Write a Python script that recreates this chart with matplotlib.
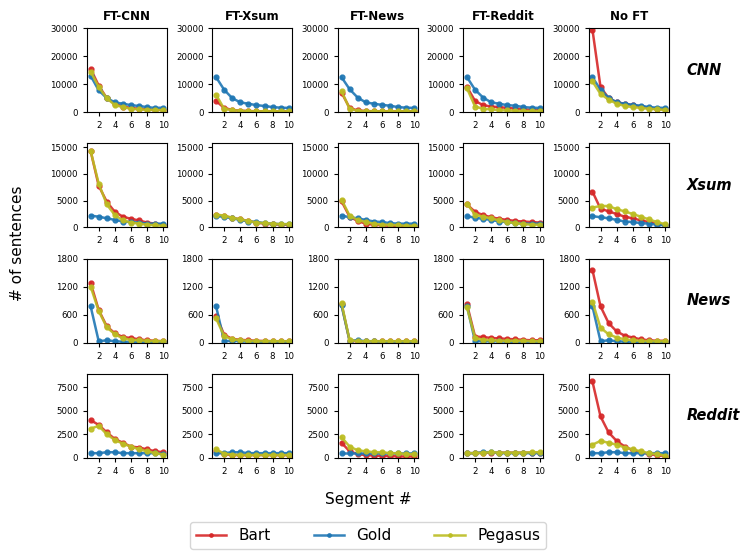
import numpy as np
import matplotlib
matplotlib.use('Agg')
import matplotlib.pyplot as plt

# column = fine-tuned model, row = test domain
columns = ['FT-CNN', 'FT-Xsum', 'FT-News', 'FT-Reddit', 'No FT']
rows = ['CNN', 'Xsum', 'News', 'Reddit']
segments = list(range(1, 11))

row_ylims = [30000, 15700, 1800, 8900]
row_yticks = [[0, 10000, 20000, 30000], [0, 5000, 10000, 15000],
              [0, 600, 1200, 1800], [0, 2500, 5000, 7500]]

# Bart
bart = [
    [[15500, 9500, 5000, 3000, 2000, 1500, 1200, 1000, 800, 900],
     [4000, 1500, 800, 500, 400, 300, 300, 300, 300, 300],
     [7000, 1500, 600, 400, 300, 300, 300, 300, 300, 300],
     [9000, 4000, 2500, 2000, 1800, 1500, 1300, 1000, 800, 800],
     [29500, 9000, 5000, 3500, 3000, 2500, 2000, 1500, 1200, 1000]],
    [[14300, 7800, 4800, 2900, 2000, 1600, 1300, 900, 700, 500],
     [2300, 2100, 1800, 1500, 1200, 900, 700, 600, 500, 500],
     [4900, 2000, 1200, 700, 500, 400, 300, 300, 300, 300],
     [4300, 2900, 2300, 1900, 1600, 1400, 1200, 1100, 1000, 900],
     [6700, 3500, 3000, 2500, 2000, 1700, 1300, 1000, 700, 400]],
    [[1280, 700, 350, 200, 120, 100, 70, 50, 40, 30],
     [580, 170, 80, 60, 50, 40, 35, 30, 30, 30],
     [820, 40, 30, 30, 30, 30, 30, 30, 30, 30],
     [820, 130, 120, 100, 90, 80, 70, 60, 50, 50],
     [1560, 780, 420, 240, 150, 110, 70, 50, 40, 40]],
    [[4000, 3500, 2700, 2000, 1600, 1200, 1100, 900, 700, 600],
     [700, 400, 300, 300, 300, 300, 300, 300, 300, 300],
     [1600, 700, 400, 300, 250, 200, 200, 150, 150, 150],
     [500, 500, 550, 550, 550, 550, 550, 550, 550, 550],
     [8100, 4400, 2700, 1800, 1200, 800, 600, 400, 300, 200]],
]

# Gold
gold = [
    [[13000, 7800, 5000, 3500, 3000, 2500, 2200, 1800, 1500, 1600],
     [12500, 8000, 5000, 3500, 3000, 2500, 2200, 1800, 1600, 1500],
     [12500, 8200, 5200, 3500, 3000, 2600, 2300, 1800, 1600, 1500],
     [12500, 8000, 5200, 3500, 3000, 2500, 2300, 1800, 1600, 1500],
     [12500, 8000, 5200, 3500, 3000, 2600, 2300, 1800, 1600, 1500]],
    [[2200, 2000, 1700, 1400, 1100, 1000, 900, 700, 700, 700],
     [2100, 2000, 1700, 1400, 1100, 1000, 800, 700, 600, 600],
     [2200, 1900, 1700, 1400, 1100, 1000, 800, 700, 700, 700],
     [2100, 1800, 1600, 1400, 1100, 1000, 800, 700, 700, 700],
     [2100, 1900, 1700, 1400, 1100, 1000, 800, 700, 500, 400]],
    [[780, 30, 50, 30, 20, 15, 10, 10, 10, 10],
     [780, 30, 40, 30, 20, 20, 15, 15, 15, 15],
     [800, 40, 50, 30, 30, 20, 20, 20, 20, 20],
     [780, 30, 30, 30, 30, 20, 20, 20, 20, 20],
     [780, 30, 50, 30, 20, 15, 10, 10, 10, 10]],
    [[500, 500, 600, 600, 500, 500, 500, 500, 500, 400],
     [500, 500, 600, 600, 500, 500, 500, 500, 500, 500],
     [500, 500, 500, 500, 500, 500, 500, 500, 500, 500],
     [500, 500, 600, 600, 500, 500, 500, 500, 500, 500],
     [500, 500, 600, 600, 500, 500, 500, 500, 500, 500]],
]

# Pegasus
pegasus = [
    [[14500, 9000, 5000, 2500, 1800, 1200, 1000, 800, 800, 700],
     [6200, 1200, 700, 500, 300, 300, 300, 300, 300, 300],
     [7500, 1200, 500, 300, 300, 300, 300, 300, 300, 300],
     [8500, 2000, 1200, 1000, 700, 600, 500, 400, 400, 400],
     [11000, 6500, 4500, 3000, 2200, 1800, 1500, 1200, 1000, 800]],
    [[14300, 8200, 4300, 2300, 1300, 900, 700, 500, 400, 300],
     [2400, 2200, 1800, 1500, 1200, 900, 800, 700, 600, 600],
     [5200, 2200, 1400, 1000, 700, 500, 500, 400, 300, 300],
     [4400, 2400, 2000, 1700, 1300, 1000, 800, 600, 500, 500],
     [3700, 4000, 4000, 3400, 3000, 2500, 2000, 1500, 1000, 600]],
    [[1200, 680, 330, 180, 90, 60, 50, 40, 30, 30],
     [520, 140, 70, 50, 40, 30, 30, 30, 30, 30],
     [850, 50, 30, 30, 30, 30, 30, 30, 30, 30],
     [760, 100, 60, 50, 40, 40, 40, 40, 30, 30],
     [880, 320, 180, 110, 70, 50, 40, 30, 30, 30]],
    [[3100, 3400, 2500, 1900, 1500, 1200, 900, 700, 500, 350],
     [900, 450, 350, 300, 300, 300, 300, 300, 300, 300],
     [2200, 1200, 800, 700, 600, 600, 500, 500, 400, 400],
     [500, 500, 550, 600, 550, 550, 550, 550, 600, 600],
     [1400, 1800, 1600, 1400, 1100, 900, 700, 500, 400, 250]],
]

series = [('Bart', bart, '#d62728'), ('Gold', gold, '#1f77b4'), ('Pegasus', pegasus, '#bcbd22')]

fig, axes = plt.subplots(4, 5, figsize=(7.48, 5.53), dpi=100)
plt.subplots_adjust(left=0.1163, right=0.894, top=0.949, bottom=0.172,
                    wspace=0.57, hspace=0.373)

for r in range(4):
    for c in range(5):
        ax = axes[r, c]
        for name, data, color in series:
            ax.plot(segments, data[r][c], color=color, marker='o', markersize=3.5,
                    linewidth=1.8, alpha=0.9, label=name)
        ax.set_ylim(0, row_ylims[r])
        ax.set_yticks(row_yticks[r])
        ax.set_xticks([2, 4, 6, 8, 10])
        ax.tick_params(labelsize=6.2, length=3)
        if r == 0:
            ax.set_title(columns[c], fontsize=8.5, fontweight='bold')
    pos = axes[r, 0].get_position()
    fig.text(0.918, (pos.y0 + pos.y1) / 2, rows[r], fontsize=10.5,
             fontweight='bold', style='italic', va='center', ha='left')

fig.text(0.024, 0.56, '# of sentences', rotation=90, fontsize=11, va='center', ha='center')
fig.text(0.492, 0.096, 'Segment #', fontsize=11, va='center', ha='center')

handles, labels = axes[0, 0].get_legend_handles_labels()
fig.legend(handles, labels, loc='upper center', bbox_to_anchor=(0.492, 0.07), ncol=3,
           fontsize=11, handlelength=2, columnspacing=2.8, markerscale=0.7)

plt.savefig('out.png', dpi=100)
